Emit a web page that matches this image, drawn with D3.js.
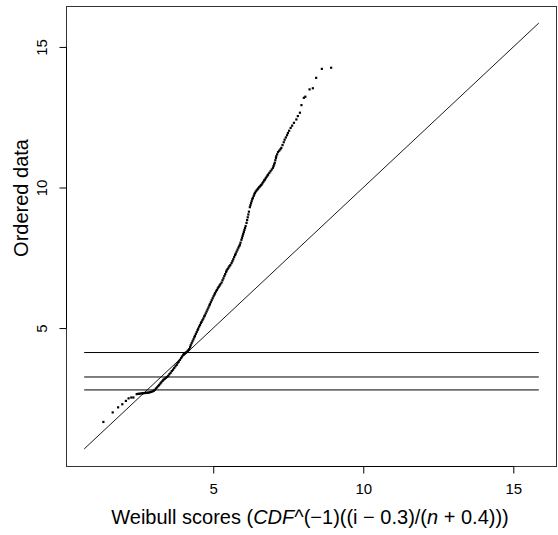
<!DOCTYPE html>
<html>
<head>
<meta charset="utf-8">
<script src="https://cdn.jsdelivr.net/npm/d3@7"></script>
<style>
  html, body { margin: 0; padding: 0; background: #fff; }
  svg { display: block; font-family: "Liberation Sans", Arial, Helvetica, sans-serif; }
</style>
</head>
<body>
<svg id="chart" width="558" height="535"></svg>
<script>
// Weibull scores (theoretical quantiles) of the ordered sample
const scores = [
  1.34, 1.65, 1.83, 1.97, 2.09, 2.18, 2.27, 2.34,
  2.45, 2.49, 2.53, 2.57, 2.62, 2.66, 2.70, 2.74, 2.78, 2.82, 2.86, 2.90,
  2.94, 2.98, 3.02, 3.05, 3.09, 3.13, 3.17, 3.20, 3.24, 3.27, 3.31, 3.34,
  3.38, 3.42, 3.46, 3.50, 3.54, 3.58, 3.62, 3.66, 3.70, 3.74, 3.78, 3.81, 3.85,
  3.89, 3.93, 3.96, 4.00, 4.03, 4.06, 4.09, 4.12, 4.15, 4.18, 4.20,
  4.23, 4.25, 4.28, 4.31, 4.34, 4.37, 4.39, 4.42, 4.45, 4.48, 4.50,
  4.53, 4.56, 4.59, 4.61, 4.64, 4.67, 4.70, 4.72, 4.75, 4.78, 4.81, 4.84, 4.87, 4.89,
  4.92, 4.95, 4.98, 5.01, 5.04, 5.06, 5.09, 5.12, 5.15, 5.18, 5.21, 5.24, 5.28,
  5.31, 5.34, 5.37, 5.40, 5.43, 5.45, 5.48, 5.51, 5.54, 5.57, 5.61,
  5.64, 5.67, 5.70, 5.73, 5.75, 5.78, 5.81, 5.84, 5.87, 5.89,
  5.91, 5.94, 5.96, 5.98, 6.00, 6.02, 6.04, 6.06, 6.08, 6.11,
  6.13, 6.15, 6.17, 6.19, 6.22, 6.24, 6.26, 6.28, 6.30, 6.32, 6.35, 6.37, 6.39,
  6.42, 6.45, 6.48, 6.50, 6.53, 6.56, 6.59, 6.61, 6.64, 6.67, 6.70, 6.72,
  6.75, 6.78, 6.81, 6.83, 6.87, 6.91, 6.95, 6.99, 7.01, 7.03, 7.05,
  7.07, 7.09, 7.10, 7.13, 7.16, 7.20, 7.24, 7.27, 7.31, 7.35, 7.38,
  7.42, 7.46, 7.49, 7.53, 7.58, 7.63, 7.69, 7.77, 7.82, 7.89,
  7.94, 8.02, 8.07, 8.21, 8.32, 8.43, 8.62, 8.93
];

// Ordered data values, one per score
const ordered = [
  1.66, 2.00, 2.18, 2.29, 2.41, 2.50, 2.53, 2.53,
  2.65, 2.66, 2.66, 2.67, 2.68, 2.68, 2.69, 2.69, 2.70, 2.70, 2.71, 2.72,
  2.73, 2.75, 2.77, 2.80, 2.85, 2.89, 2.94, 2.98, 3.03, 3.07, 3.12, 3.16,
  3.19, 3.23, 3.26, 3.30, 3.36, 3.41, 3.47, 3.52, 3.58, 3.64, 3.69, 3.75, 3.80,
  3.87, 3.93, 3.99, 4.05, 4.08, 4.10, 4.13, 4.15, 4.19, 4.22, 4.25,
  4.32, 4.39, 4.46, 4.53, 4.60, 4.67, 4.72, 4.79, 4.86, 4.93, 4.98,
  5.05, 5.11, 5.18, 5.22, 5.28, 5.34, 5.41, 5.45, 5.52, 5.59, 5.66, 5.73, 5.80, 5.85,
  5.92, 5.99, 6.06, 6.13, 6.19, 6.24, 6.30, 6.35, 6.41, 6.46, 6.51, 6.56, 6.62,
  6.70, 6.77, 6.85, 6.92, 7.00, 7.05, 7.10, 7.15, 7.20, 7.24, 7.31,
  7.38, 7.45, 7.53, 7.60, 7.65, 7.72, 7.79, 7.86, 7.92, 7.97,
  8.04, 8.14, 8.21, 8.28, 8.35, 8.42, 8.49, 8.56, 8.63, 8.74,
  8.84, 8.94, 9.04, 9.14, 9.30, 9.37, 9.44, 9.51, 9.58, 9.63, 9.70, 9.76, 9.81,
  9.86, 9.90, 9.94, 9.97, 10.01, 10.04, 10.08, 10.10, 10.15, 10.20, 10.25, 10.28,
  10.33, 10.38, 10.43, 10.46, 10.52, 10.58, 10.64, 10.70, 10.76, 10.82, 10.88,
  10.97, 11.05, 11.11, 11.18, 11.26, 11.31, 11.36, 11.41, 11.51, 11.61, 11.70,
  11.78, 11.86, 11.94, 12.02, 12.12, 12.20, 12.30, 12.42, 12.54, 12.66,
  12.93, 13.19, 13.23, 13.49, 13.53, 13.90, 14.22, 14.26
];

// Common limits of both axes; the reference line y = x spans them
const limits = [0.70, 15.85];
// Horizontal threshold levels
const thresholds = [4.13, 3.26, 2.80];
const xTicks = [5, 10, 15];
const yTicks = [5, 10, 15];

const svg = d3.select("#chart");
const box = { left: 66, top: 6, right: 557, bottom: 466 };

// 4% padding of the limits on each side
const pad = (limits[1] - limits[0]) * 0.04;
const domain = [limits[0] - pad, limits[1] + pad];

const x = d3.scaleLinear().domain(domain).range([box.left, box.right]);
const y = d3.scaleLinear().domain(domain).range([box.bottom, box.top]);

// Plot frame
svg.append("rect")
  .attr("x", box.left + 0.5).attr("y", box.top + 0.5)
  .attr("width", box.right - box.left - 1).attr("height", box.bottom - box.top)
  .attr("fill", "none").attr("stroke", "#333").attr("stroke-width", 1);

// Axes
const xAxis = svg.append("g")
  .attr("transform", `translate(0,${box.bottom + 0.5})`)
  .call(d3.axisBottom(x).tickValues(xTicks).tickSize(7).tickSizeOuter(0).tickFormat(d3.format("d")));
xAxis.select(".domain").remove();
xAxis.append("line")
  .attr("x1", x(xTicks[0])).attr("x2", x(xTicks[xTicks.length - 1]))
  .attr("stroke", "#000");
xAxis.selectAll(".tick line").attr("stroke", "#000");
xAxis.selectAll(".tick text")
  .attr("y", 16.5).attr("dy", "0.71em")
  .attr("font-size", 15).attr("fill", "#000")
  .attr("font-family", "Liberation Sans, Arial, sans-serif");

const yAxis = svg.append("g")
  .attr("transform", `translate(${box.left + 0.5},0)`)
  .call(d3.axisLeft(y).tickValues(yTicks).tickSize(7).tickSizeOuter(0).tickFormat(d3.format("d")));
yAxis.select(".domain").remove();
yAxis.append("line")
  .attr("y1", y(yTicks[0])).attr("y2", y(yTicks[yTicks.length - 1]))
  .attr("stroke", "#000");
yAxis.selectAll(".tick line").attr("stroke", "#000");
yAxis.selectAll(".tick text")
  .attr("x", null).attr("dy", null)
  .attr("transform", "translate(-19.5,0) rotate(-90)")
  .attr("text-anchor", "middle")
  .attr("font-size", 15).attr("fill", "#000")
  .attr("font-family", "Liberation Sans, Arial, sans-serif");

// Reference line y = x
svg.append("line")
  .attr("x1", x(limits[0])).attr("y1", y(limits[0]))
  .attr("x2", x(limits[1])).attr("y2", y(limits[1]))
  .attr("stroke", "#000").attr("stroke-width", 0.9);

// Threshold lines
svg.append("g").selectAll("line")
  .data(thresholds)
  .join("line")
  .attr("x1", x(limits[0])).attr("x2", x(limits[1]))
  .attr("y1", d => y(d)).attr("y2", d => y(d))
  .attr("stroke", "#000").attr("stroke-width", 1);

// Sample points
const pts = scores.map((s, i) => ({ s, v: ordered[i] }));
svg.append("g").selectAll("rect")
  .data(pts)
  .join("rect")
  .attr("x", d => x(d.s) - 1.1)
  .attr("y", d => y(d.v) - 1.1)
  .attr("width", 2.2).attr("height", 2.2)
  .attr("fill", "#000");

// Axis titles
const xt = svg.append("text")
  .attr("x", 310)
  .attr("y", 524)
  .attr("text-anchor", "middle")
  .attr("font-size", 20).attr("fill", "#000");
xt.append("tspan").text("Weibull scores (");
xt.append("tspan").attr("font-style", "italic").text("CDF");
xt.append("tspan").text("^(\u22121)((i \u2212 0.3)/(");
xt.append("tspan").attr("font-style", "italic").text("n");
xt.append("tspan").text(" + 0.4)))");

svg.append("text")
  .attr("transform", "translate(28,198) rotate(-90)")
  .attr("text-anchor", "middle")
  .attr("font-size", 20).attr("fill", "#000")
  .text("Ordered data");
</script>
</body>
</html>
